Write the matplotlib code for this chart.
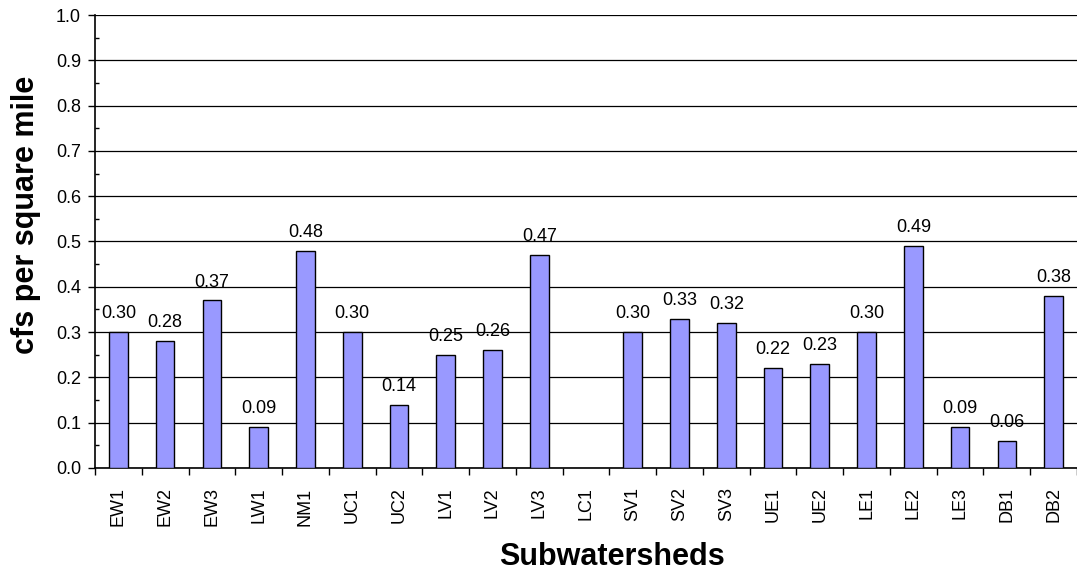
import numpy as np
import matplotlib.pyplot as plt
from matplotlib.ticker import MultipleLocator

plt.rcParams['font.family'] = ['Liberation Sans', 'DejaVu Sans']

subwatersheds = ["EW1", "EW2", "EW3", "LW1", "NM1", "UC1", "UC2", "LV1", "LV2", "LV3",
                 "LC1", "SV1", "SV2", "SV3", "UE1", "UE2", "LE1", "LE2", "LE3", "DB1", "DB2"]
cfs_per_sq_mile = [0.30, 0.28, 0.37, 0.09, 0.48, 0.30, 0.14, 0.25, 0.26, 0.47,
                   np.nan, 0.30, 0.33, 0.32, 0.22, 0.23, 0.30, 0.49, 0.09, 0.06, 0.38]

W, H = 1077, 572
fig = plt.figure(figsize=(W / 100, H / 100), dpi=100)
ax = fig.add_axes([95 / W, (H - 468) / H, 982 / W, 453 / H])

x = np.arange(len(subwatersheds))
vals = np.array(cfs_per_sq_mile, dtype=float)
mask = ~np.isnan(vals)

ax.set_axisbelow(True)
ax.yaxis.grid(True, color="black", linewidth=0.9)
ax.bar(x[mask], vals[mask], width=0.4, color="#9999FF", edgecolor="black",
       linewidth=1.0, zorder=3)

for xi, v in zip(x[mask], vals[mask]):
    ax.annotate(f"{v:.2f}", (xi, v), xytext=(0, 10), textcoords="offset points",
                ha="center", va="baseline", fontsize=13)

ax.set_xlim(-0.5, len(subwatersheds) - 0.5)
ax.set_ylim(0, 1.0)

ax.yaxis.set_major_locator(MultipleLocator(0.1))
ax.yaxis.set_minor_locator(MultipleLocator(0.05))
ax.yaxis.set_major_formatter(plt.FormatStrFormatter("%.1f"))
ax.tick_params(axis="y", which="major", direction="out", length=5, width=1,
               labelsize=13, pad=5)
ax.tick_params(axis="y", which="minor", direction="in", length=3, width=1)

ax.set_xticks(x)
ax.set_xticklabels(subwatersheds, rotation=90, fontsize=13)
ax.set_xticks(np.arange(-0.5, len(subwatersheds)), minor=True)
ax.tick_params(axis="x", which="major", length=0, pad=14)
ax.tick_params(axis="x", which="minor", direction="out", length=5, width=1)

for side in ["top", "right"]:
    ax.spines[side].set_visible(False)
ax.spines["left"].set_linewidth(1.2)
ax.spines["bottom"].set_linewidth(1.2)

fig.text(26 / W, 1 - 215 / H, "cfs per square mile", rotation=90, ha="center",
         va="center", fontsize=22, fontweight="bold")
fig.text(612 / W, 1 - 565 / H, "Subwatersheds", ha="center", va="baseline",
         fontsize=22, fontweight="bold")

fig.savefig("out.png", dpi=100)
